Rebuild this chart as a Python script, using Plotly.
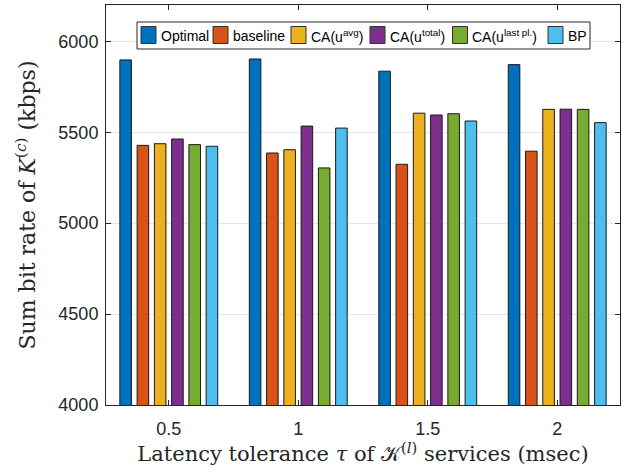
import plotly.graph_objects as go

categories = ["0.5", "1", "1.5", "2"]
series_names = ["Optimal", "baseline", "CA(u<sup>avg</sup>)", "CA(u<sup>total</sup>)",
                "CA(u<sup>last pl.</sup>)", "BP"]
optimal = [5898, 5903, 5836, 5872]
baseline = [5428, 5386, 5324, 5396]
ca_avg = [5437, 5404, 5605, 5626]
ca_total = [5463, 5534, 5595, 5627]
ca_last = [5432, 5304, 5602, 5626]
bp = [5423, 5523, 5562, 5553]
series_values = [optimal, baseline, ca_avg, ca_total, ca_last, bp]
colors = ["#0072BD", "#D95319", "#EDB120", "#7E2F8E", "#77AC30", "#4DBEEE"]
y_ticks = [4000, 4500, 5000, 5500, 6000]

xpos = [1, 2, 3, 4]

# layout geometry (pixels)
W, H = 632, 472
ML, MR, MT, MB = 106, 12, 5, 67
PW, PH = W - ML - MR, H - MT - MB


def px(xp):
    return (xp - ML) / PW


def py(yp):
    return 1 - (yp - MT) / PH


fig = go.Figure()
for name, vals, col in zip(series_names, series_values, colors):
    fig.add_trace(go.Bar(x=xpos, y=vals, name=name, marker_color=col,
                         marker_line_color="#1a1a1a", marker_line_width=1,
                         showlegend=False))

# hand-drawn legend (single row, like the reference)
legend_box = dict(x0=137, x1=590, y0=22, y1=49)
swatch_left = [141, 213, 291, 370, 452.5, 548]
shapes = [dict(type="rect", xref="paper", yref="paper",
               x0=px(legend_box["x0"]), x1=px(legend_box["x1"]),
               y0=py(legend_box["y1"]), y1=py(legend_box["y0"]),
               fillcolor="white", line=dict(color="#262626", width=1), layer="above")]
annotations = []
for name, col, sl in zip(series_names, colors, swatch_left):
    shapes.append(dict(type="rect", xref="paper", yref="paper",
                       x0=px(sl), x1=px(sl + 15), y0=py(43.5), y1=py(26.5),
                       fillcolor=col, line=dict(color="#333333", width=1), layer="above"))
    annotations.append(dict(text=name, xref="paper", yref="paper",
                            x=px(sl + 17.5), y=py(35.5), xanchor="left", yanchor="middle",
                            showarrow=False,
                            font=dict(family="Liberation Sans, Arial", size=14, color="black")))

axis_common = dict(showline=True, linecolor="#262626", linewidth=1, mirror="ticks",
                   ticks="inside", ticklen=5, tickcolor="#262626", automargin=False,
                   tickfont=dict(family="Liberation Sans, Arial", size=18, color="#262626"))

fig.update_layout(
    width=W, height=H,
    margin=dict(l=ML, r=MR, t=MT, b=MB, autoexpand=False),
    paper_bgcolor="white", plot_bgcolor="white",
    barmode="group", bargap=0.2, bargroupgap=0.33,
    showlegend=False,
    shapes=shapes, annotations=annotations,
    xaxis=dict(range=[0.515, 4.485], tickvals=xpos, ticktext=categories,
               showgrid=False, zeroline=False, ticklabelstandoff=7,
               title=dict(text="Latency tolerance <i>τ</i> of 𝒦<sup>(<i>l</i>)</sup> services (msec)",
                          font=dict(family="DejaVu Serif", size=21, color="#262626"), standoff=8),
               **axis_common),
    yaxis=dict(range=[4000, 6200], tickvals=y_ticks, showgrid=True,
               gridcolor="#e6e6e6", gridwidth=1, zeroline=False, ticklabelstandoff=3,
               title=dict(text="Sum bit rate of <i>K</i><sup>(<i>c</i>)</sup> (kbps)",
                          font=dict(family="DejaVu Serif", size=22, color="#262626"), standoff=16),
               **axis_common),
)

fig.write_html("out.html", config={"displayModeBar": False},
               post_script="document.body.style.margin='0';document.body.style.padding='0';")
